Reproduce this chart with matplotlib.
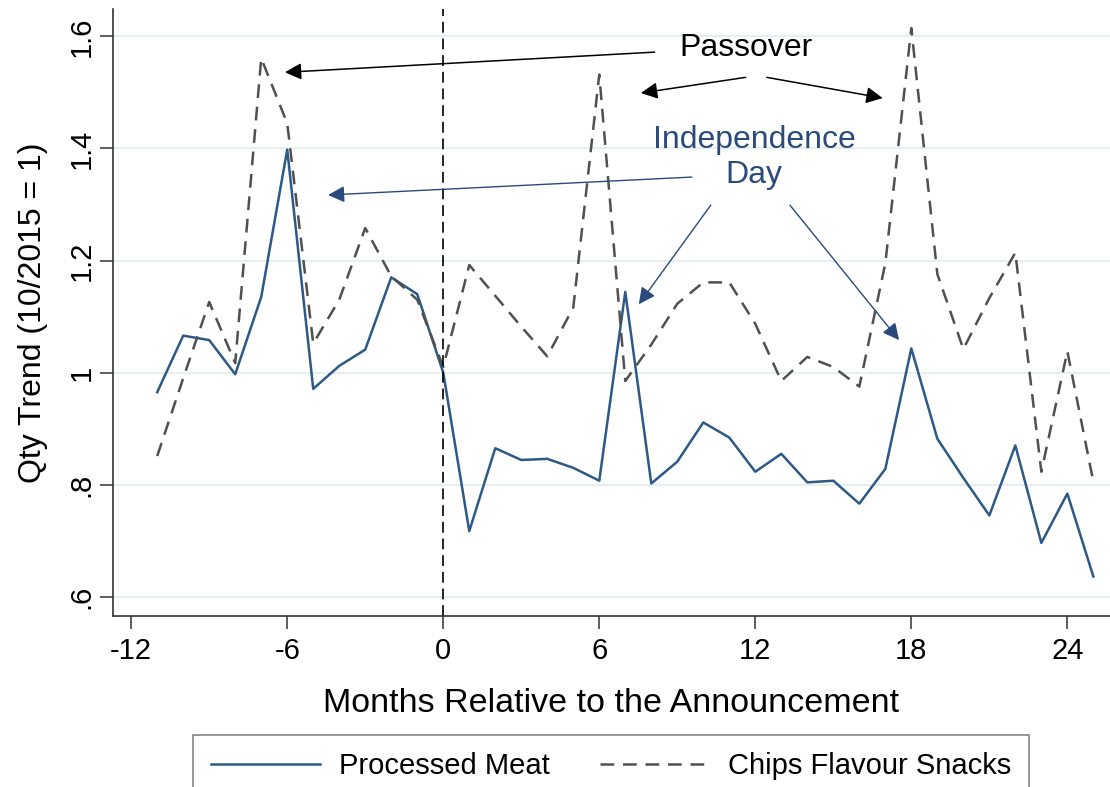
import numpy as np
import matplotlib.pyplot as plt
from matplotlib.lines import Line2D

plt.rcParams['font.family'] = ['Liberation Sans', 'DejaVu Sans']
plt.rcParams['axes.unicode_minus'] = False

# months relative to the announcement (10/2015)
months = list(range(-11, 26))

processed_meat = [0.965, 1.066, 1.058, 0.997, 1.135, 1.398, 0.971, 1.012, 1.041, 1.170, 1.140, 1.000,
                  0.717, 0.865, 0.844, 0.846, 0.830, 0.807, 1.144, 0.802, 0.841, 0.911, 0.884, 0.823,
                  0.855, 0.804, 0.807, 0.766, 0.828, 1.043, 0.882, 0.812, 0.745, 0.870, 0.696, 0.784,
                  0.636]
chips_snacks = [0.851, 0.990, 1.126, 1.017, 1.561, 1.445, 1.052, 1.130, 1.258, 1.172, 1.130, 1.010,
                1.192, 1.137, 1.082, 1.029, 1.116, 1.532, 0.985, 1.050, 1.123, 1.161, 1.161, 1.087,
                0.985, 1.028, 1.010, 0.975, 1.195, 1.615, 1.176, 1.042, 1.133, 1.214, 0.823, 1.038,
                0.805]

series_names = ['Processed Meat', 'Chips Flavour Snacks']
xticks = [-12, -6, 0, 6, 12, 18, 24]
yticks = [0.6, 0.8, 1.0, 1.2, 1.4, 1.6]
ytick_labels = ['.6', '.8', '1', '1.2', '1.4', '1.6']

navy = '#2c5985'
grey = '#505050'
holiday_blue = '#2b4a7c'

fig = plt.figure(figsize=(11.1, 7.87), dpi=100)
ax = fig.add_axes([113/1110, 1 - 616/787, 1 - 113/1110, (616 - 9)/787])

ax.plot(months, processed_meat, '-', color=navy, lw=1.8)
ax.plot(months, chips_snacks, color=grey, lw=1.8, dashes=(5.5, 3.5))
ax.axvline(0, color='black', lw=1.2, dashes=(6.5, 3.5))

ax.set_xlim(-12.70, 25.64)
ax.set_ylim(0.5655, 1.649)
ax.set_xticks(xticks)
ax.set_yticks(yticks)
ax.set_yticklabels(ytick_labels, rotation=90, va='center')
ax.grid(axis='y', color='#e3eef0', lw=1.3)
ax.set_axisbelow(True)

for s in ['top', 'right']:
    ax.spines[s].set_visible(False)
for s in ['left', 'bottom']:
    ax.spines[s].set_color('#333333')
    ax.spines[s].set_linewidth(1.2)
ax.tick_params(axis='both', length=9.4, width=1.1, color='#333333', labelsize=21)
ax.tick_params(axis='x', pad=6)
ax.tick_params(axis='y', pad=3)

ax.set_xlabel('Months Relative to the Announcement', fontsize=24.5, labelpad=16)
ax.set_ylabel('Qty Trend (10/2015 = 1)', fontsize=23, labelpad=14)

# Passover annotations
ax.text(11.63, 1.579, 'Passover', fontsize=23, ha='center', va='center', color='black')
black_arrow = dict(arrowstyle='-|>', color='black', lw=1.1, mutation_scale=25,
                   shrinkA=0, shrinkB=0)
ax.annotate('', xy=(-6.09, 1.536), xytext=(8.13, 1.572), arrowprops=black_arrow)
ax.annotate('', xy=(7.6, 1.499), xytext=(11.63, 1.527), arrowprops=black_arrow)
ax.annotate('', xy=(16.9, 1.490), xytext=(12.44, 1.527), arrowprops=black_arrow)

# Independence Day annotations
ax.text(11.95, 1.384, 'Independence\nDay', fontsize=23, ha='center', va='center',
        color=holiday_blue, linespacing=1.2)
blue_arrow = dict(arrowstyle='-|>', color=holiday_blue, lw=1.0, mutation_scale=25,
                  shrinkA=0, shrinkB=0)
ax.annotate('', xy=(-4.43, 1.317), xytext=(9.56, 1.349), arrowprops=blue_arrow)
ax.annotate('', xy=(7.52, 1.122), xytext=(10.29, 1.299), arrowprops=blue_arrow)
ax.annotate('', xy=(17.53, 1.058), xytext=(13.33, 1.299), arrowprops=blue_arrow)

handles = [Line2D([], [], color=navy, lw=1.8),
           Line2D([], [], color=grey, lw=1.8, dashes=(5.5, 3.5))]
fig.legend(handles, series_names, loc='upper left', bbox_to_anchor=(193/1110, 1 - 735/787),
           ncol=2, fontsize=21, frameon=True, fancybox=False, edgecolor='#666666',
           borderpad=0.6, handlelength=3.77, handletextpad=0.62, columnspacing=1.75,
           borderaxespad=0).get_frame().set_linewidth(1.2)

fig.savefig('out.png', dpi=100)
